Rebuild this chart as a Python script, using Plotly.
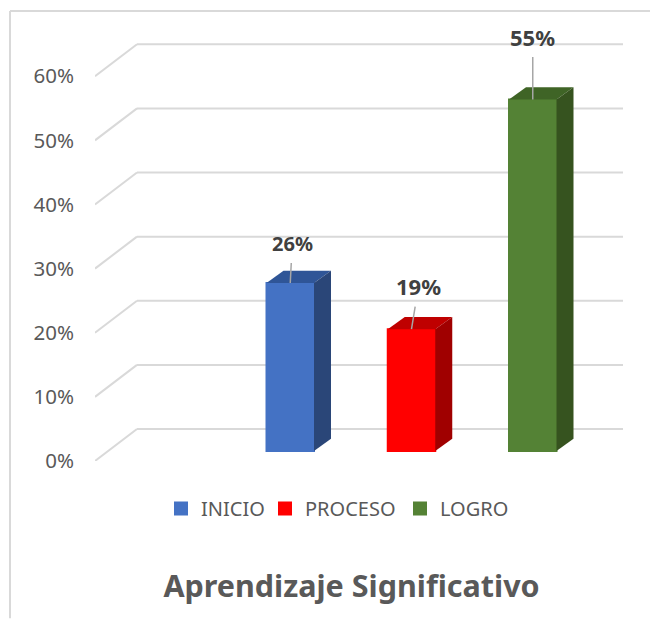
import plotly.graph_objects as go

categories = ["INICIO", "PROCESO", "LOGRO"]
values = [0.262, 0.19, 0.548]
front_colors = ["#4472C4", "#FF0000", "#548235"]
top_colors = ["#2F5597", "#BF0000", "#3F6426"]
side_colors = ["#2A4678", "#A00000", "#36531F"]
tick_values = [0, 0.1, 0.2, 0.3, 0.4, 0.5, 0.6]
label_offsets = [(2, -39), (7, -43), (0, -63)]
label_sizes = [20, 22, 22]
legend_x_px = [161, 265, 400]

W, H = 650, 619
L, R, T, B = 95, 623, 0, 461.5
PX_X = 121.25          # pixels per category
PX_Y = 642.0           # pixels per 100%
x0_px = 290.25         # centre of first bar
to_x = lambda p: (p - x0_px) / PX_X
bar_w = 47.5 / PX_X
wall_dx, wall_dy = 42 / PX_X, 32 / PX_Y
bar_dx, bar_dy = 17 / PX_X, 12.3 / PX_Y
base = 10 / PX_Y
paper_x = lambda p: (p - L) / (R - L)
paper_y = lambda p: (B - p) / (B - T)

fig = go.Figure()
names = ["legend", "legend2", "legend3"]
for i, (c, v) in enumerate(zip(categories, values)):
    fig.add_trace(go.Bar(x=[i], y=[v], base=base, width=bar_w, name=c, legend=names[i],
                         marker=dict(color=front_colors[i], line=dict(color=front_colors[i], width=2)),
                         hoverinfo="name+y"))
for i, v in enumerate(values):
    xl, xr = i - bar_w / 2, i + bar_w / 2
    top = base + v
    fig.add_trace(go.Scatter(x=[xl, xl + bar_dx, xr + bar_dx, xr, xl],
                             y=[top, top + bar_dy, top + bar_dy, top, top],
                             fill="toself", fillcolor=top_colors[i], mode="none",
                             showlegend=False, hoverinfo="skip"))
    fig.add_trace(go.Scatter(x=[xr, xr + bar_dx, xr + bar_dx, xr, xr],
                             y=[base, base + bar_dy, top + bar_dy, top, base],
                             fill="toself", fillcolor=side_colors[i], mode="none",
                             showlegend=False, hoverinfo="skip"))

grid = dict(color="#D9D9D9", width=2)
shapes = []
for t in tick_values:
    shapes.append(dict(type="line", layer="below", xref="x", yref="y", x0=to_x(L), y0=t,
                       x1=to_x(L) + wall_dx, y1=t + wall_dy, line=grid))
    shapes.append(dict(type="line", layer="below", xref="x", yref="y", x0=to_x(L) + wall_dx, y0=t + wall_dy,
                       x1=to_x(R), y1=t + wall_dy, line=grid))
# chart border
shapes.append(dict(type="line", xref="paper", yref="paper", x0=paper_x(10), y0=paper_y(11), x1=paper_x(650), y1=paper_y(11), line=grid))
shapes.append(dict(type="line", xref="paper", yref="paper", x0=paper_x(10), y0=paper_y(11), x1=paper_x(10), y1=paper_y(619), line=grid))

annotations = []
for i, v in enumerate(values):
    ax, ay = label_offsets[i]
    annotations.append(dict(x=i, y=base + v, xref="x", yref="y", text=f"<b>{v:.0%}</b>",
                            showarrow=True, arrowhead=0, arrowwidth=1.5, arrowcolor="#A6A6A6",
                            ax=ax, ay=ay, borderpad=5,
                            font=dict(family="Noto Sans", size=label_sizes[i], color="#404040")))

layout_legends = {}
for n, px in zip(names, legend_x_px):
    layout_legends[n] = dict(x=paper_x(px), y=paper_y(509), xanchor="left", yanchor="middle",
                             orientation="h", bgcolor="rgba(0,0,0,0)",
                             font=dict(family="Noto Sans", size=20, color="#595959"))

fig.update_layout(
    width=W, height=H, margin=dict(l=L, r=W - R, t=T, b=H - B),
    paper_bgcolor="white", plot_bgcolor="white", showlegend=True,
    barmode="overlay",
    title=dict(text="<b>Aprendizaje Significativo</b>", x=351.5 / W, xref="container", xanchor="center",
               y=1 - 586 / H, yref="container", yanchor="middle",
               font=dict(family="Noto Sans", size=30.5, color="#595959")),
    xaxis=dict(range=[to_x(L), to_x(R)], showgrid=False, zeroline=False, showticklabels=False, showline=False, ticks=""),
    yaxis=dict(range=[0, (B - T) / PX_Y], tickvals=tick_values, tickformat=".0%", showgrid=False,
               zeroline=False, showline=False, ticks="", ticklabelstandoff=20,
               tickfont=dict(family="Noto Sans", size=20.5, color="#595959")),
    shapes=shapes, annotations=annotations, **layout_legends,
)
fig.write_html("out.html", post_script="document.body.style.margin='0';", config=dict(displayModeBar=False))
